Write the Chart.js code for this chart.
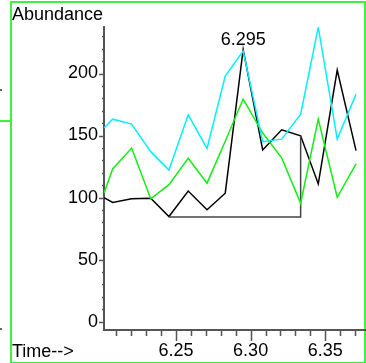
<!DOCTYPE html>
<html>
<head>
<meta charset="utf-8">
<script src="https://cdn.jsdelivr.net/npm/chart.js@4"></script>
<style>
    html, body { margin: 0; padding: 0; background: #fff; }
    body { width: 366px; height: 363px; position: relative; overflow: hidden; }
    #chart { position: absolute; left: 0; top: 0; }
    .frame { position: absolute; left: 10px; top: 1px; width: 352px; height: 359px; border: 2px solid #44ee44; }
    .stub { position: absolute; left: 0; top: 120px; width: 10px; height: 2px; background: #44ee44; }
    .dot { position: absolute; left: 0; width: 2px; height: 2px; background: #666; }
</style>
</head>
<body>
<div class="frame"></div>
<div class="stub"></div>
<div class="dot" style="top: 89px"></div>
<div class="dot" style="top: 328px"></div>
<canvas id="chart" width="366" height="363"></canvas>
<script>
// Retention times (min) of the scans
const times = [6.2018, 6.2076, 6.2203, 6.2331, 6.2453, 6.2582, 6.2708, 6.2830,
               6.2950, 6.3081, 6.3208, 6.3335, 6.3453, 6.3580, 6.3706];

// Ion abundances per trace
const blackTrace = [100.0, 96.0, 99.0, 99.5, 84.7, 105.2, 90.1, 103.5,
                    219.4, 138.3, 154.6, 149.8, 111.0, 202.8, 137.8];
const cyanTrace  = [156.0, 163.2, 159.2, 137.0, 122.2, 166.7, 139.6, 198.0,
                    218.1, 145.0, 147.1, 167.2, 237.3, 147.1, 183.3];
const greenTrace = [103.5, 123.1, 139.9, 99.0, 110.4, 131.7, 111.6, 145.4,
                    179.4, 152.0, 132.0, 95.4, 163.2, 100.2, 127.1];

// Integration baseline under the peak
const baseTimes  = [6.2453, 6.3335, 6.3335];
const baseValues = [84.4, 84.4, 149.8];

const peakLabel = '6.295';
const peakTime = 6.2950;
const peakValue = 219.4;

const FONT = '"Liberation Sans", Arial, sans-serif';
const AXIS_COLOR = '#555';

function toPoints(xs, ys) {
    return xs.map((x, i) => ({ x: x, y: ys[i] }));
}

// Tick marks, axis captions and the peak label
const decorPlugin = {
    id: 'decor',
    afterDraw(chart) {
        const ctx = chart.ctx;
        const xs = chart.scales.x;
        const ys = chart.scales.y;
        const area = chart.chartArea;
        ctx.save();
        ctx.strokeStyle = AXIS_COLOR;
        ctx.lineWidth = 1.5;

        // x ticks every 0.01, long ones every 0.05
        for (let k = 621; k <= 637; k++) {
            const px = Math.round(xs.getPixelForValue(k / 100)) + 0.5;
            const len = (k % 5 === 0) ? 11 : 6;
            ctx.beginPath();
            ctx.moveTo(px, area.bottom);
            ctx.lineTo(px, area.bottom + len);
            ctx.stroke();
        }

        // y ticks every 10, long ones every 50
        for (let v = 0; v <= 230; v += 10) {
            const py = Math.round(ys.getPixelForValue(v)) + 0.5;
            const len = (v % 50 === 0) ? 5 : 2;
            ctx.beginPath();
            ctx.moveTo(area.left, py);
            ctx.lineTo(area.left - len, py);
            ctx.stroke();
        }

        ctx.fillStyle = '#000';
        ctx.font = '18px ' + FONT;
        ctx.textBaseline = 'alphabetic';
        ctx.textAlign = 'left';
        ctx.fillText('Abundance', 12, 20);
        ctx.fillText('Time-->', 12, 357);

        ctx.textAlign = 'center';
        ctx.fillText(peakLabel, xs.getPixelForValue(peakTime), ys.getPixelForValue(peakValue) - 4);
        ctx.restore();
    }
};

const lineStyle = { fill: false, pointRadius: 0, borderWidth: 1.5, tension: 0 };

new Chart(document.getElementById('chart'), {
    type: 'line',
    data: {
        datasets: [
            Object.assign({ data: toPoints(times, cyanTrace), borderColor: '#00f0ff' }, lineStyle),
            Object.assign({ data: toPoints(times, greenTrace), borderColor: '#11ee11' }, lineStyle),
            Object.assign({ data: toPoints(baseTimes, baseValues), borderColor: '#444' }, lineStyle),
            Object.assign({ data: toPoints(times, blackTrace), borderColor: '#000' }, lineStyle)
        ]
    },
    options: {
        responsive: false,
        animation: false,
        layout: { padding: { top: 27, right: 1, left: 0, bottom: 0 } },
        plugins: {
            legend: { display: false },
            tooltip: { enabled: false }
        },
        scales: {
            x: {
                type: 'linear',
                min: 6.2018,
                max: 6.3766,
                afterFit(scale) { scale.height = 33; },
                grid: { display: false, drawTicks: false },
                border: { display: true, color: AXIS_COLOR, width: 2 },
                ticks: {
                    stepSize: 0.05,
                    autoSkip: false,
                    maxRotation: 0,
                    padding: 10,
                    color: '#000',
                    font: { family: FONT, size: 18 },
                    callback: v => v.toFixed(2)
                },
                afterBuildTicks(scale) {
                    scale.ticks = [6.25, 6.30, 6.35].map(v => ({ value: v }));
                }
            },
            y: {
                type: 'linear',
                min: -6.8,
                max: 237.5,
                afterFit(scale) { scale.width = 104; },
                grid: { display: false, drawTicks: false },
                border: { display: true, color: AXIS_COLOR, width: 2 },
                ticks: {
                    padding: 6,
                    color: '#000',
                    font: { family: FONT, size: 18 }
                },
                afterBuildTicks(scale) {
                    scale.ticks = [0, 50, 100, 150, 200].map(v => ({ value: v }));
                }
            }
        }
    },
    plugins: [decorPlugin]
});
</script>
</body>
</html>
